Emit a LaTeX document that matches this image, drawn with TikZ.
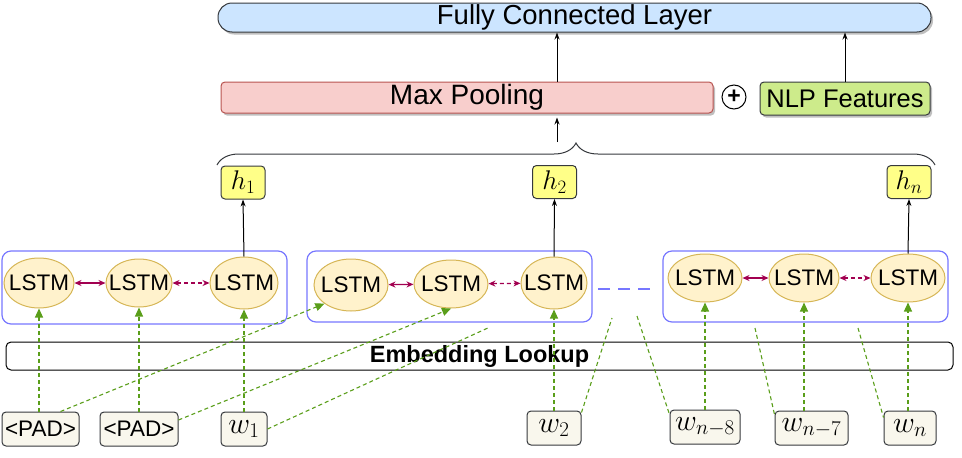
\RequirePackage{fix-cm}
\documentclass[tikz,border=0pt]{standalone}
\usepackage[no-math]{fontspec}
\setmainfont{Liberation Sans}
\usetikzlibrary{shapes.geometric,arrows.meta,decorations.pathreplacing,shadows,calc}
\definecolor{fcfill}{HTML}{CCE5FF}
\definecolor{dk}{HTML}{36393D}
\definecolor{mpfill}{HTML}{F8CECC}
\definecolor{mpdraw}{HTML}{B85450}
\definecolor{nlpfill}{HTML}{CDEB8B}
\definecolor{hfill}{HTML}{FFFF88}
\definecolor{lfill}{HTML}{FFF2CC}
\definecolor{ldraw}{HTML}{D6B656}
\definecolor{grp}{HTML}{7777FF}
\definecolor{grn}{HTML}{5A9E1A}
\definecolor{mar}{HTML}{A20050}
\definecolor{wfill}{HTML}{F9F7ED}
\newcommand{\lstmtxt}{\makebox[0pt]{LSTM}}
\begin{document}
\begin{tikzpicture}[x=1pt,y=-1pt,
  shad/.style={drop shadow={opacity=0.25,shadow xshift=2pt,shadow yshift=-2.5pt,fill=black}},
  topbox/.style={rectangle,inner sep=0pt,line width=1pt,shad},
  hbox/.style={rectangle,rounded corners=4pt,fill=hfill,draw=dk,line width=1pt,inner sep=0pt,minimum width=44pt,minimum height=33pt,font=\fontsize{27}{29}\selectfont},
  wbox/.style={rectangle,rounded corners=4pt,fill=wfill,draw=dk,line width=1pt,inner sep=0pt,minimum height=34pt,font=\fontsize{30}{32}\selectfont},
  padbox/.style={wbox,font=\fontsize{22.5}{26}\selectfont},
  lstm/.style={ellipse,fill=lfill,draw=ldraw,line width=1pt,inner sep=0pt,font=\fontsize{22.5}{26}\selectfont},
  grpbox/.style={rectangle,rounded corners=9pt,draw=grp,line width=1.2pt,inner sep=0pt},
  arr/.style={draw=black,line width=1pt,-{Stealth[length=7pt,width=5pt]}},
  garr/.style={draw=grn,line width=1.1pt,dash pattern=on 4pt off 3pt,-{Triangle[length=9pt,width=8pt]}},
  gline/.style={draw=grn,line width=1.1pt,dash pattern=on 4pt off 3pt},
  marr/.style={draw=mar,line width=1.3pt,{Stealth[length=7pt,width=6pt]}-{Stealth[length=7pt,width=6pt]}},
  mdarr/.style={marr,dash pattern=on 4pt off 3pt}
]
\useasboundingbox (0,0) rectangle (962,458);

% top layers
\node[topbox,rounded corners=14pt,fill=fcfill,draw=dk,minimum width=713pt,minimum height=29pt,font=\fontsize{27.5}{29}\selectfont] (fc) at (574.5,17.5) {Fully Connected Layer};
\node[topbox,rounded corners=4pt,fill=mpfill,draw=mpdraw,minimum width=492pt,minimum height=31pt,font=\fontsize{28}{30}\selectfont] (mp) at (467,97.5) {Max Pooling};
\node[topbox,rounded corners=4pt,fill=nlpfill,draw=dk,minimum width=170pt,minimum height=33pt,font=\fontsize{25.5}{28}\selectfont] (nlp) at (845,98.5) {NLP Features};
\node[circle,draw=black,line width=1pt,minimum size=24pt,inner sep=0pt,font=\bfseries\fontsize{23}{23}\selectfont] (plus) at (734,97) {+};

\coordinate (pa) at (557,0);
\coordinate (brtop) at (557,142);
\draw[arr] (mp.north -| pa) -- (fc.south -| pa);
\draw[arr] (nlp.north) -- (fc.south -| nlp.north);
\draw[arr,shorten >=4pt] (brtop) -- (mp.south -| pa);

% brace
\coordinate (bl) at (217,165);
\coordinate (br) at (935,165);
\draw[dk,line width=1pt,decorate,decoration={brace,amplitude=22pt}] (bl) -- (br);

% hidden outputs
\node[hbox] (h1) at (243,182.5) {$h_1$};
\node[hbox] (h2) at (554.5,182) {$h_2$};
\node[hbox] (hn) at (909,182) {$h_n$};

% groups
\node[grpbox,minimum width=285pt,minimum height=73pt] (g1) at (144.5,287.5) {};
\node[grpbox,minimum width=285pt,minimum height=71pt] (g2) at (449.5,286.5) {};
\node[grpbox,minimum width=285pt,minimum height=71pt] (g3) at (805.5,286.5) {};

% LSTMs
\node[lstm,minimum width=70pt,minimum height=50pt] (l11) at (39,283) {\lstmtxt};
\node[lstm,minimum width=66pt,minimum height=48pt] (l12) at (139,283) {\lstmtxt};
\node[lstm,minimum width=68pt,minimum height=52pt] (l13) at (244,283) {\lstmtxt};
\node[lstm,minimum width=74pt,minimum height=52pt] (l21) at (351,285) {\lstmtxt};
\node[lstm,minimum width=74pt,minimum height=48pt] (l22) at (451,284) {\lstmtxt};
\node[lstm,minimum width=66pt,minimum height=52pt] (l23) at (554,283) {\lstmtxt};
\node[lstm,minimum width=74pt,minimum height=48pt] (l31) at (705,278) {\lstmtxt};
\node[lstm,minimum width=70pt,minimum height=48pt] (l32) at (804,278) {\lstmtxt};
\node[lstm,minimum width=74pt,minimum height=48pt] (l33) at (908,278) {\lstmtxt};

\draw[marr] (l11) -- (l12);
\draw[mdarr] (l12) -- (l13);
\draw[marr] (l21) -- (l22);
\draw[mdarr] (l22) -- (l23);
\draw[marr] (l31) -- (l32);
\draw[mdarr] (l32) -- (l33);

\draw[arr] (l13.north) -- (h1.south);
\draw[arr] (l23.north) -- (h2.south);
\draw[arr] (l33.north) -- (hn.south);

% blue dashes between groups
\coordinate (bd1) at (598,289);
\coordinate (bd2) at (650,289);
\draw[draw=grp,line width=2pt,dash pattern=on 12pt off 8pt] (bd1) -- (bd2);

% embedding
\node[rectangle,rounded corners=5pt,draw=black,line width=1pt,fill=white,minimum width=947pt,minimum height=28pt,inner sep=0pt,font=\bfseries\fontsize{23.5}{26}\selectfont] (emb) at (479.5,356) {Embedding Lookup};

% words
\node[padbox,minimum width=77pt] (p1) at (40.5,429) {\textless PAD\textgreater};
\node[padbox,minimum width=78pt] (p2) at (139,429) {\textless PAD\textgreater};
\node[wbox,minimum width=46pt] (w1) at (244,429) {$w_1$};
\node[wbox,minimum width=54pt] (w2) at (554,428) {$w_2$};
\node[wbox,minimum width=70pt] (wn8) at (705,427) {$w_{n-8}$};
\node[wbox,minimum width=73pt] (wn7) at (811.5,428) {$w_{n-7}$};
\node[wbox,minimum width=52pt] (wn) at (910,428) {$w_n$};

% green connectors
\draw[garr] (l11.south |- p1.north) -- (l11.south);
\draw[garr] (l12.south |- p2.north) -- (l12.south);
\draw[garr] (l13.south |- w1.north) -- (l13.south);
\draw[garr] (l23.south |- w2.north) -- (l23.south);
\draw[garr] (l31.south |- wn8.north) -- (l31.south);
\draw[garr] (l32.south |- wn7.north) -- (l32.south);
\draw[garr] (l33.south |- wn.north) -- (l33.south);

\draw[garr] ($(p1.north)+(20,0)$) -- (l21.215);
\draw[garr] ($(p2.east)+(0,-9)$) -- (l22.south);
\coordinate (e1) at (490,327);
\draw[gline] (w1.east) -- (e1);
\coordinate (e2) at (612,318);
\draw[gline] ($(w2.north east)+(0,2)$) -- (e2);
\coordinate (e3) at (637,316);
\draw[gline] (e3) -- ($(wn8.north west)+(0,5)$);
\coordinate (e4) at (755,328);
\draw[gline] (e4) -- ($(wn7.north west)+(0,4)$);
\coordinate (e5) at (858,328);
\draw[gline] (e5) -- ($(wn.north west)+(0,7)$);
\end{tikzpicture}
\end{document}
